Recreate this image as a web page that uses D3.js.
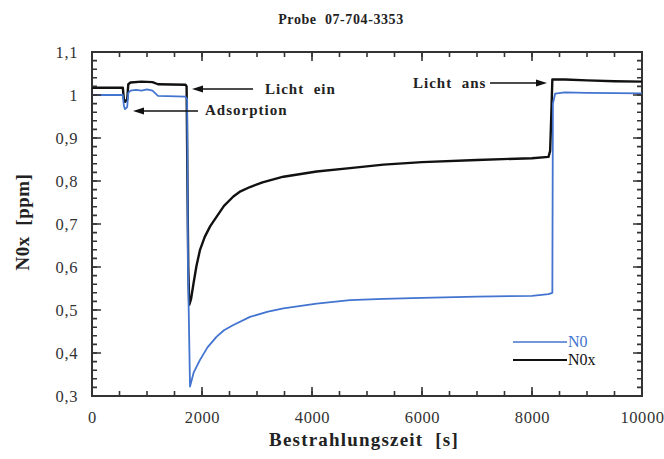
<!DOCTYPE html>
<html>
<head>
<meta charset="utf-8">
<script src="https://cdn.jsdelivr.net/npm/d3@7"></script>
<style>
  body { margin: 0; background: #fff; }
  svg { display: block; font-family: "Liberation Serif", "Times New Roman", serif; }
  text { white-space: pre; }
</style>
</head>
<body>
<svg id="chart" width="664" height="459"></svg>
<script>
// data
const n0xTime = [0, 560, 580, 600, 640, 660, 700, 900, 1100, 1200, 1700, 1720, 1735, 1750, 1768, 1800, 1850, 1900, 1964, 2050, 2150, 2267, 2400, 2570, 2700, 2873, 3100, 3480, 4085, 4690, 5300, 6000, 7000, 8000, 8300, 8330, 8350, 8370, 8600, 9000, 9500, 10000];
const n0xValue = [1.017, 1.017, 0.99, 0.984, 0.99, 1.025, 1.029, 1.031, 1.03, 1.025, 1.024, 1.02, 0.8, 0.6, 0.512, 0.525, 0.565, 0.603, 0.64, 0.67, 0.695, 0.717, 0.742, 0.764, 0.776, 0.786, 0.797, 0.81, 0.822, 0.83, 0.838, 0.844, 0.849, 0.853, 0.856, 0.87, 0.95, 1.036, 1.036, 1.034, 1.032, 1.031];

const n0Time = [0, 560, 580, 600, 640, 660, 700, 800, 900, 1000, 1100, 1200, 1700, 1730, 1745, 1782, 1850, 1964, 2100, 2267, 2400, 2570, 2873, 3200, 3480, 4085, 4690, 5300, 6000, 7000, 8000, 8300, 8370, 8380, 8420, 8600, 9000, 10000];
const n0Value = [1.0, 1.0, 0.975, 0.967, 0.972, 1.005, 1.01, 1.012, 1.01, 1.013, 1.01, 0.998, 0.996, 0.99, 0.6, 0.322, 0.355, 0.384, 0.413, 0.438, 0.453, 0.465, 0.484, 0.496, 0.504, 0.515, 0.523, 0.526, 0.528, 0.531, 0.533, 0.537, 0.54, 0.98, 1.003, 1.006, 1.005, 1.004];

const xTicks = [0, 2000, 4000, 6000, 8000, 10000];
const yTicks = [0.3, 0.4, 0.5, 0.6, 0.7, 0.8, 0.9, 1.0, 1.1];

const seriesNames = ["N0", "N0x"];
const seriesColors = ["#4274d0", "#111111"];

const margin = { top: 52, right: 22, bottom: 63, left: 92 };
const width = 664, height = 459;
const content_width = width - margin.left - margin.right;
const content_height = height - margin.top - margin.bottom;

const svg = d3.select("#chart");
const g = svg.append("g").attr("transform", `translate(${margin.left},${margin.top})`);

const x = d3.scaleLinear().domain([0, 10000]).range([0, content_width]);
const y = d3.scaleLinear().domain([0.3, 1.1]).range([content_height, 0]);

const fmt = d => (Math.abs(d - 1) < 1e-9 ? "1" : d3.format(".1f")(d).replace(".", ","));
const xMinor = d3.range(0, 10001, 500);
const yMinor = d3.range(0, 41).map(i => 0.3 + i * 0.02);

// frame
g.append("rect")
  .attr("width", content_width)
  .attr("height", content_height)
  .attr("fill", "none")
  .attr("stroke", "#333")
  .attr("stroke-width", 2);

// lines
const valueLine = d3.line().x(d => x(d[0])).y(d => y(d[1]));
const n0 = n0Time.map((t, i) => [t, n0Value[i]]);
const n0x = n0xTime.map((t, i) => [t, n0xValue[i]]);

g.append("path").datum(n0x)
  .attr("fill", "none").attr("stroke", seriesColors[1]).attr("stroke-width", 2.4)
  .attr("stroke-linejoin", "round").attr("d", valueLine);
g.append("path").datum(n0)
  .attr("fill", "none").attr("stroke", seriesColors[0]).attr("stroke-width", 1.8)
  .attr("stroke-linejoin", "round").attr("d", valueLine);

// tick labels from d3 axes
function addLabels(axis, shift) {
  const a = g.append("g");
  if (shift) a.attr("transform", shift);
  a.call(axis);
  a.select(".domain").remove();
  a.selectAll(".tick line").remove();
  a.selectAll(".tick text")
    .attr("fill", "#333")
    .attr("font-size", "16.5px")
    .attr("letter-spacing", "0.6px")
    .attr("font-family", "Liberation Serif, serif");
}
addLabels(d3.axisLeft(y).tickValues(yTicks).tickSize(0).tickPadding(14).tickFormat(fmt));
addLabels(d3.axisBottom(x).tickValues(xTicks).tickSize(0).tickPadding(15).tickFormat(d3.format("d")),
  `translate(0,${content_height})`);

// inward ticks on all four sides, one path each from the scales
const tickSets = [
  { values: yMinor, len: 5, pos: v => `M0,${y(v)}h` },
  { values: yTicks, len: 9, pos: v => `M0,${y(v)}h` },
  { values: yMinor, len: -5, pos: v => `M${content_width},${y(v)}h` },
  { values: yTicks, len: -9, pos: v => `M${content_width},${y(v)}h` },
  { values: xMinor, len: -5, pos: v => `M${x(v)},${content_height}v` },
  { values: xTicks, len: -9, pos: v => `M${x(v)},${content_height}v` },
  { values: xMinor, len: 5, pos: v => `M${x(v)},0v` },
  { values: xTicks, len: 9, pos: v => `M${x(v)},0v` }
];
tickSets.forEach(s => {
  g.append("path")
    .attr("d", s.values.map(v => s.pos(v) + s.len).join(""))
    .attr("fill", "none")
    .attr("stroke", "#333")
    .attr("stroke-width", 1.6);
});

// annotations with arrows
const annotations = [
  { label: "Licht  ein", text: [265, 94], from: [253, 89], to: [192, 89] },
  { label: "Adsorption", text: [205, 115], from: [198, 111], to: [133, 111] },
  { label: "Licht  ans", text: [413, 88], from: [490, 83], to: [547, 83] }
];
annotations.forEach(a => {
  const dir = Math.sign(a.to[0] - a.from[0]);
  const baseX = a.to[0] - dir * 11;
  svg.append("path")
    .attr("d", `M${a.from[0]},${a.from[1]}H${baseX}`)
    .attr("stroke", "#111").attr("stroke-width", 1.5);
  svg.append("path")
    .attr("d", `M${a.to[0]},${a.to[1]}L${baseX},${a.to[1] - 3.5}L${baseX},${a.to[1] + 3.5}Z`)
    .attr("fill", "#111");
  svg.append("text")
    .attr("x", a.text[0]).attr("y", a.text[1])
    .attr("font-size", "15px").attr("font-weight", "bold")
    .attr("letter-spacing", "1px").attr("fill", "#222")
    .text(a.label);
});

// legend
seriesNames.forEach((name, i) => {
  const ly = 342 + i * 18;
  svg.append("path")
    .attr("d", `M513,${ly}H567`)
    .attr("stroke", seriesColors[i]).attr("stroke-width", i ? 1.8 : 1.6);
  svg.append("text")
    .attr("x", 568).attr("y", ly + 5)
    .attr("font-size", "16px").attr("fill", seriesColors[i])
    .text(name);
});

// title
svg.append("text")
  .attr("x", 341).attr("y", 24)
  .attr("text-anchor", "middle")
  .attr("font-size", "14px").attr("font-weight", "bold")
  .attr("letter-spacing", "0.6px").attr("fill", "#222")
  .text("Probe  07-704-3353");

// x axis-label
svg.append("text")
  .attr("x", 364)
  .attr("y", 446)
  .attr("text-anchor", "middle")
  .attr("font-size", "19px").attr("font-weight", "bold")
  .attr("letter-spacing", "1.2px").attr("fill", "#222")
  .text("Bestrahlungszeit  [s]");

// y axis-label
svg.append("text")
  .attr("transform", "rotate(-90)")
  .attr("x", -222)
  .attr("y", 29)
  .attr("text-anchor", "middle")
  .attr("font-size", "19px").attr("font-weight", "bold")
  .attr("letter-spacing", "0.5px").attr("fill", "#222")
  .text("N0x  [ppm]");
</script>
</body>
</html>
